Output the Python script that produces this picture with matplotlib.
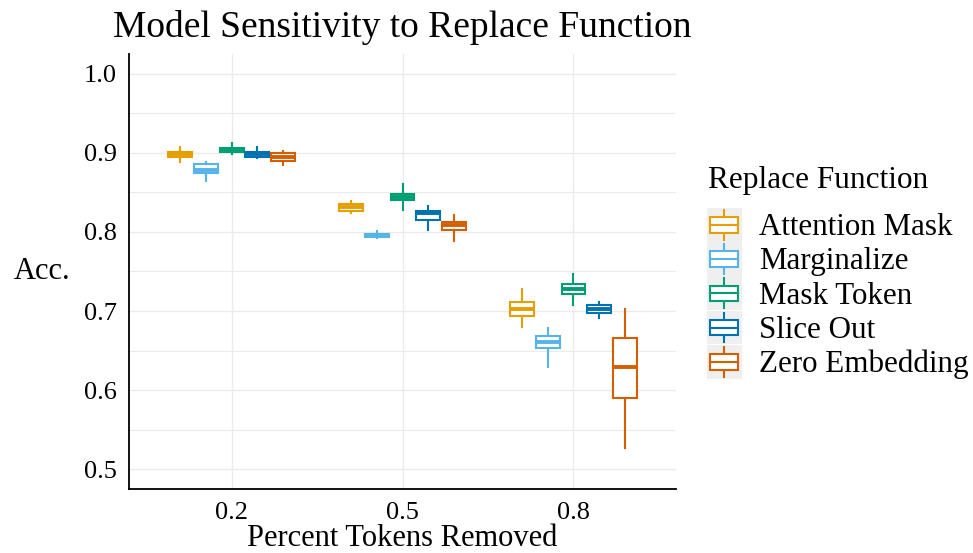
import matplotlib
matplotlib.use("Agg")
import matplotlib.pyplot as plt
from matplotlib.patches import Patch, Rectangle
from matplotlib.lines import Line2D
from matplotlib.legend_handler import HandlerBase
from matplotlib.ticker import MultipleLocator

plt.rcParams['font.family'] = ['Liberation Serif', 'DejaVu Serif']

# data
percent = ['0.2', '0.5', '0.8']
methods = ['Attention Mask', 'Marginalize', 'Mask Token', 'Slice Out', 'Zero Embedding']
colors = ['#E69F00', '#56B4E9', '#009E73', '#0072B2', '#D55E00']

# per method, one value per percent group
am_med = [0.898, 0.832, 0.702]
am_q1 = [0.895, 0.827, 0.694]
am_q3 = [0.901, 0.835, 0.711]
am_lo = [0.889, 0.824, 0.680]
am_hi = [0.907, 0.839, 0.728]

marg_med = [0.878, 0.796, 0.661]
marg_q1 = [0.874, 0.794, 0.653]
marg_q3 = [0.886, 0.797, 0.669]
marg_lo = [0.864, 0.792, 0.629]
marg_hi = [0.889, 0.801, 0.678]

mask_med = [0.903, 0.844, 0.728]
mask_q1 = [0.901, 0.840, 0.722]
mask_q3 = [0.906, 0.848, 0.734]
mask_lo = [0.899, 0.828, 0.708]
mask_hi = [0.913, 0.861, 0.747]

slice_med = [0.898, 0.824, 0.703]
slice_q1 = [0.895, 0.815, 0.698]
slice_q3 = [0.901, 0.827, 0.708]
slice_lo = [0.893, 0.803, 0.691]
slice_hi = [0.907, 0.833, 0.711]

zero_med = [0.895, 0.809, 0.629]
zero_q1 = [0.890, 0.802, 0.590]
zero_q3 = [0.900, 0.813, 0.666]
zero_lo = [0.885, 0.788, 0.527]
zero_hi = [0.902, 0.822, 0.702]

series = [
    (am_med, am_q1, am_q3, am_lo, am_hi),
    (marg_med, marg_q1, marg_q3, marg_lo, marg_hi),
    (mask_med, mask_q1, mask_q3, mask_lo, mask_hi),
    (slice_med, slice_q1, slice_q3, slice_lo, slice_hi),
    (zero_med, zero_q1, zero_q3, zero_lo, zero_hi),
]


class HandlerBox(HandlerBase):
    # small ggplot style boxplot key with grey background
    def create_artists(self, legend, orig_handle, xdescent, ydescent,
                       width, height, fontsize, trans):
        c = orig_handle.get_edgecolor()
        x0, y0 = -xdescent, -ydescent
        bg = Rectangle((x0, y0), width, height, facecolor='#EFEFEF',
                       edgecolor='none', transform=trans)
        bw = width * 0.8
        bh = height * 0.46
        bx = x0 + (width - bw) / 2
        by = y0 + (height - bh) / 2
        box = Rectangle((bx, by), bw, bh, facecolor='white', edgecolor=c,
                        lw=1.5, transform=trans)
        cx = x0 + width / 2
        med = Line2D([bx, bx + bw], [y0 + height / 2] * 2, color=c, lw=1.5,
                     transform=trans)
        w1 = Line2D([cx, cx], [y0 + height * 0.06, by], color=c, lw=1.5,
                    transform=trans)
        w2 = Line2D([cx, cx], [by + bh, y0 + height * 0.94], color=c, lw=1.5,
                    transform=trans)
        return [bg, w1, w2, box, med]


fig = plt.figure(figsize=(9.73, 5.53), dpi=100)
ax = fig.add_axes([0.1326, 0.1157, 0.5622, 0.7867])

dodge = 0.15
for j, (med, q1, q3, lo, hi) in enumerate(series):
    stats = []
    for i in range(len(percent)):
        stats.append({'med': med[i], 'q1': q1[i], 'q3': q3[i],
                      'whislo': lo[i], 'whishi': hi[i], 'fliers': []})
    pos = [i + (j - 2) * dodge for i in range(len(percent))]
    ax.bxp(stats, positions=pos, widths=0.14, showcaps=False,
           patch_artist=True, manage_ticks=False,
           boxprops=dict(facecolor='white', edgecolor=colors[j], lw=1.5),
           whiskerprops=dict(color=colors[j], lw=1.5),
           medianprops=dict(color=colors[j], lw=2.8, solid_capstyle='butt'),
           zorder=3)

ax.set_xlim(-0.6, 2.6)
ax.set_ylim(0.475, 1.025)
ax.set_xticks(range(len(percent)))
ax.set_xticklabels(percent)
ax.yaxis.set_minor_locator(MultipleLocator(0.05))
ax.set_yticks([0.5, 0.6, 0.7, 0.8, 0.9, 1.0])
ax.set_yticklabels(['0.5', '0.6', '0.7', '0.8', '0.9', '1.0'])

ax.grid(which='major', color='#EBEBEB', lw=1.0, zorder=0)
ax.grid(which='minor', axis='y', color='#EBEBEB', lw=0.8, zorder=0)
ax.set_axisbelow(True)
ax.tick_params(which='both', length=0, labelsize=19, pad=9, colors='black')
for s in ['top', 'right']:
    ax.spines[s].set_visible(False)
for s in ['left', 'bottom']:
    ax.spines[s].set_linewidth(1.3)
    ax.spines[s].set_color('black')

ax.set_xlabel('Percent Tokens Removed', fontsize=22)
ax.xaxis.set_label_coords(0.5, -0.081)
ax.xaxis.label.set_va('top')
ax.set_ylabel('Acc.', fontsize=22, rotation=0, ha='right', va='center')
ax.yaxis.set_label_coords(-0.107, 0.5)

fig.text(0.4132, 0.951, 'Model Sensitivity to Replace Function',
         fontsize=27, ha='center', va='center')

# legend title as its own text, keys below it
fig.text(0.7276, 0.673, 'Replace Function', fontsize=22.5,
         ha='left', va='center')
handles = [Patch(edgecolor=c, facecolor='white') for c in colors]
leg = fig.legend(handles, methods, handler_map={Patch: HandlerBox()},
                 loc='upper left', bbox_to_anchor=(0.7266, 0.624),
                 frameon=False, fontsize=22.3, handlelength=1.12,
                 handleheight=1.3, labelspacing=0.0, handletextpad=0.55,
                 borderpad=0, borderaxespad=0)

fig.savefig('out.png', dpi=100)
